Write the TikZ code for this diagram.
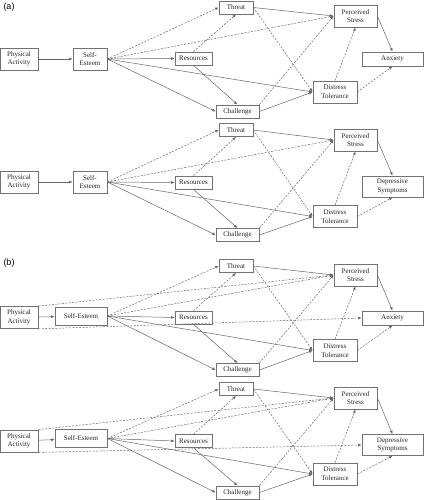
\documentclass[tikz,border=0pt]{standalone}
\usepackage{fontspec}
\setmainfont{Liberation Serif}
\newfontfamily\panelfont{Liberation Sans}
\usetikzlibrary{arrows.meta}
\begin{document}
\begin{tikzpicture}[x=1pt,y=-1pt,
	box/.style={draw=black!55,line width=.8pt,fill=white,align=center,inner sep=0pt,font=\fontsize{7}{8.6}\selectfont,text=black!85},
	sig/.style={black!60,line width=.5pt,-{Latex[length=3.5pt,width=2.8pt]}},
	nonsig/.style={sig,dash pattern=on 2pt off 1.4pt}]
	\useasboundingbox (0,0) rectangle (424,500);
	\node[font=\panelfont\fontsize{9}{10}\selectfont] (lblA) at (9,7) {(a)};
	\node[font=\panelfont\fontsize{9}{10}\selectfont] (lblB) at (9,263) {(b)};
	% (a) anxiety
	\node[box,minimum width=38,minimum height=22] (PA1) at (19,59) {Physical\\Activity};
	\node[box,minimum width=34,minimum height=22] (SE1) at (90,59) {Self-\\Esteem};
	\node[box,minimum width=37,minimum height=13] (R1) at (193.5,58.5) {Resources};
	\node[box,minimum width=34,minimum height=13] (T1) at (236,7.5) {Threat};
	\node[box,minimum width=43,minimum height=13] (C1) at (237.5,111.5) {Challenge};
	\node[box,minimum width=43,minimum height=22] (PS1) at (355.5,16) {Perceived\\Stress};
	\node[box,minimum width=44,minimum height=22] (DT1) at (335,92) {Distress\\Tolerance};
	\node[box,minimum width=61,minimum height=14] (Y1) at (392.5,59) {Anxiety};
	\path[sig] (PA1) edge (SE1) (SE1.east) edge (R1.west) (SE1.east) edge (DT1.west) (SE1.east) edge (C1.west)
		(R1.south) edge (C1.north) (T1.east) edge (PS1.west) (C1.east) edge (DT1.west) (PS1.east) edge (Y1.north);
	\path[nonsig] (SE1.east) edge (T1.west) (SE1.east) edge (PS1.west) (R1.north) edge (T1.south) (T1.east) edge (DT1.west)
		(C1.north east) edge (PS1.west) (DT1.north) edge (PS1.south) (DT1.east) edge (Y1.south);
	% (a) depressive symptoms
	\node[box,minimum width=38,minimum height=22] (PA2) at (19,182) {Physical\\Activity};
	\node[box,minimum width=34,minimum height=22] (SE2) at (90,182) {Self-\\Esteem};
	\node[box,minimum width=37,minimum height=13] (R2) at (193.5,182.5) {Resources};
	\node[box,minimum width=34,minimum height=13] (T2) at (236,130) {Threat};
	\node[box,minimum width=43,minimum height=13] (C2) at (237.5,235) {Challenge};
	\node[box,minimum width=43,minimum height=22] (PS2) at (355.5,140) {Perceived\\Stress};
	\node[box,minimum width=44,minimum height=22] (DT2) at (335,216.5) {Distress\\Tolerance};
	\node[box,minimum width=61,minimum height=21] (Y2) at (392.5,186.5) {Depressive\\Symptoms};
	\path[sig] (PA2) edge (SE2) (SE2.east) edge (R2.west) (SE2.east) edge (DT2.west) (SE2.east) edge (C2.west)
		(R2.south) edge (C2.north) (T2.east) edge (PS2.west) (C2.east) edge (DT2.west) (PS2.east) edge (Y2.north);
	\path[nonsig] (SE2.east) edge (T2.west) (SE2.east) edge (PS2.west) (R2.north) edge (T2.south) (T2.east) edge (DT2.west)
		(C2.north east) edge (PS2.west) (DT2.north) edge (PS2.south) (DT2.east) edge (Y2.south);
	% (b) anxiety
	\node[box,minimum width=38,minimum height=22] (PA3) at (19,317.5) {Physical\\Activity};
	\node[box,minimum width=52,minimum height=18] (SE3) at (81,316) {Self-Esteem};
	\node[box,minimum width=37,minimum height=13] (R3) at (193.5,317.5) {Resources};
	\node[box,minimum width=34,minimum height=13] (T3) at (236,266) {Threat};
	\node[box,minimum width=43,minimum height=13] (C3) at (237.5,370) {Challenge};
	\node[box,minimum width=43,minimum height=22] (PS3) at (355.5,275) {Perceived\\Stress};
	\node[box,minimum width=44,minimum height=22] (DT3) at (335,350.5) {Distress\\Tolerance};
	\node[box,minimum width=61,minimum height=14] (Y3) at (392.5,318) {Anxiety};
	\path[sig] (PA3) edge (SE3) (SE3.east) edge (R3.west) (SE3.east) edge (DT3.west) (SE3.east) edge (C3.west)
		(R3.south) edge (C3.north) (T3.east) edge (PS3.west) (C3.east) edge (DT3.west) (PS3.east) edge (Y3.north);
	\path[nonsig] (SE3.east) edge (T3.west) (SE3.east) edge (PS3.west) (R3.north) edge (T3.south) (T3.east) edge (DT3.west)
		(C3.north east) edge (PS3.west) (DT3.north) edge (PS3.south) (DT3.east) edge (Y3.south)
		(PA3.north east) edge (PS3.west) (PA3.south east) edge (Y3.west);
	% (b) depressive symptoms
	\node[box,minimum width=38,minimum height=22] (PA4) at (19,441) {Physical\\Activity};
	\node[box,minimum width=52,minimum height=18] (SE4) at (81,438.5) {Self-Esteem};
	\node[box,minimum width=37,minimum height=13] (R4) at (193.5,441) {Resources};
	\node[box,minimum width=34,minimum height=13] (T4) at (236,389) {Threat};
	\node[box,minimum width=43,minimum height=13] (C4) at (237.5,492.5) {Challenge};
	\node[box,minimum width=43,minimum height=22] (PS4) at (355.5,398) {Perceived\\Stress};
	\node[box,minimum width=44,minimum height=22] (DT4) at (335,474) {Distress\\Tolerance};
	\node[box,minimum width=61,minimum height=21] (Y4) at (392.5,445) {Depressive\\Symptoms};
	\path[sig] (PA4) edge (SE4) (SE4.east) edge (R4.west) (SE4.east) edge (DT4.west) (SE4.east) edge (C4.west)
		(R4.south) edge (C4.north) (T4.east) edge (PS4.west) (C4.east) edge (DT4.west) (PS4.east) edge (Y4.north);
	\path[nonsig] (SE4.east) edge (T4.west) (SE4.east) edge (PS4.west) (R4.north) edge (T4.south) (T4.east) edge (DT4.west)
		(C4.north east) edge (PS4.west) (DT4.north) edge (PS4.south) (DT4.east) edge (Y4.south)
		(PA4.north east) edge (PS4.west) (PA4.south east) edge (Y4.west);
\end{tikzpicture}
\end{document}
